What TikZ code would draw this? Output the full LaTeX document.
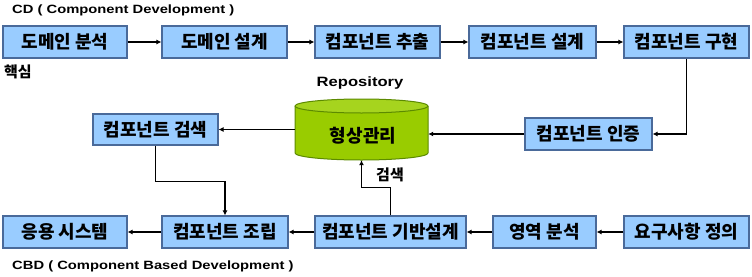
\documentclass[tikz,border=0pt]{standalone}
\usepackage{fontspec}
\usetikzlibrary{arrows.meta}
\newfontfamily\kr{Noto Sans CJK KR}
\newfontfamily\lat[FakeStretch=1.23]{Liberation Sans}
\definecolor{boxfill}{HTML}{99CCFF}
\definecolor{boxline}{HTML}{4A6A9A}
\definecolor{cylfill}{HTML}{99CC00}
\definecolor{cyltop}{HTML}{A6D41E}
\definecolor{cylline}{HTML}{5C8A00}
\tikzset{
  stepbox/.style={draw=boxline, fill=boxfill, line width=1.1pt, inner sep=0pt,
    minimum height=32pt, font=\kr\bfseries\fontsize{18pt}{18pt}\selectfont},
  conn/.style={draw=black, line width=1.8pt, -{Latex[length=5pt,width=5pt]}},
  lbl/.style={font=\lat\bfseries\fontsize{12pt}{12pt}\selectfont, inner sep=0pt},
  krlbl/.style={font=\kr\bfseries\fontsize{15pt}{15pt}\selectfont, inner sep=0pt}
}
\begin{document}
\begin{tikzpicture}[x=1pt,y=1pt]
\useasboundingbox (0,0) rectangle (752,-276);
% top row
\node[stepbox, minimum width=124pt] (d1) at (65,-42) {도메인 분석};
\node[stepbox, minimum width=125pt] (d2) at (224.5,-42) {도메인 설계};
\node[stepbox, minimum width=125pt] (d3) at (377.5,-42) {컴포넌트 추출};
\node[stepbox, minimum width=127pt] (d4) at (532.5,-42) {컴포넌트 설계};
\node[stepbox, minimum width=125pt] (d5) at (686.5,-42) {컴포넌트 구현};
% middle row
\node[stepbox, minimum width=125pt, minimum height=31pt] (s) at (155.5,-129.5) {컴포넌트 검색};
\node[stepbox, minimum width=127pt] (v) at (588.5,-134) {컴포넌트 인증};
% cylinder
\node[minimum width=133pt, minimum height=61pt, inner sep=0pt] (repo) at (361.5,-129.5) {};
\fill[cylfill] (295,-106) -- (295,-153) arc[start angle=180, end angle=360, x radius=66.5pt, y radius=7pt] -- (428,-106) -- cycle;
\draw[cylline, line width=1pt] (295,-106) -- (295,-153) arc[start angle=180, end angle=360, x radius=66.5pt, y radius=7pt] -- (428,-106);
\draw[cylline, line width=1pt, fill=cyltop] (361.5,-106) ellipse [x radius=66.5pt, y radius=7pt];
\node[krlbl, font=\kr\bfseries\fontsize{18pt}{18pt}\selectfont] (repotext) at (363,-136) {형상관리};
\node[lbl, font=\lat\bfseries\fontsize{13.5pt}{13.5pt}\selectfont] (repolbl) at (360,-83) {Repository};
% bottom row
\node[stepbox, minimum width=124pt] (b1) at (65,-232) {응용 시스템};
\node[stepbox, minimum width=126pt] (b2) at (225,-232) {컴포넌트 조립};
\node[stepbox, minimum width=151pt] (b3) at (390.5,-232) {컴포넌트 기반설계};
\node[stepbox, minimum width=103pt] (b4) at (544.5,-232) {영역 분석};
\node[stepbox, minimum width=125pt] (b5) at (686.5,-232) {요구사항 정의};
% labels
\node[lbl, anchor=west] (cd) at (12,-10) {CD ( Component Development )};
\node[lbl, anchor=west] (cbd) at (12,-266) {CBD ( Component Based Development )};
\node[krlbl, anchor=west] (core) at (4,-72) {핵심};
\node[krlbl] (srch) at (390,-175) {검색};
% connectors
\draw[conn] (d1.east) -- (d2.west);
\draw[conn] (d2.east) -- (d3.west);
\draw[conn] (d3.east) -- (d4.west);
\draw[conn] (d4.east) -- (d5.west);
\draw[conn] (d5.south) |- (v.east);
\draw[conn] (v.west) -- (v.west -| repo.east);
\draw[conn] (s.east -| repo.west) -- (s.east);
\draw[conn] (s.south) -- ++(0,-36) -| (b2.north);
\draw[conn] (b3.north) -- ++(0,28) -| (repo.south);
\draw[conn] (b5.west) -- (b4.east);
\draw[conn] (b4.west) -- (b3.east);
\draw[conn] (b3.west) -- (b2.east);
\draw[conn] (b2.west) -- (b1.east);
\end{tikzpicture}
\end{document}
